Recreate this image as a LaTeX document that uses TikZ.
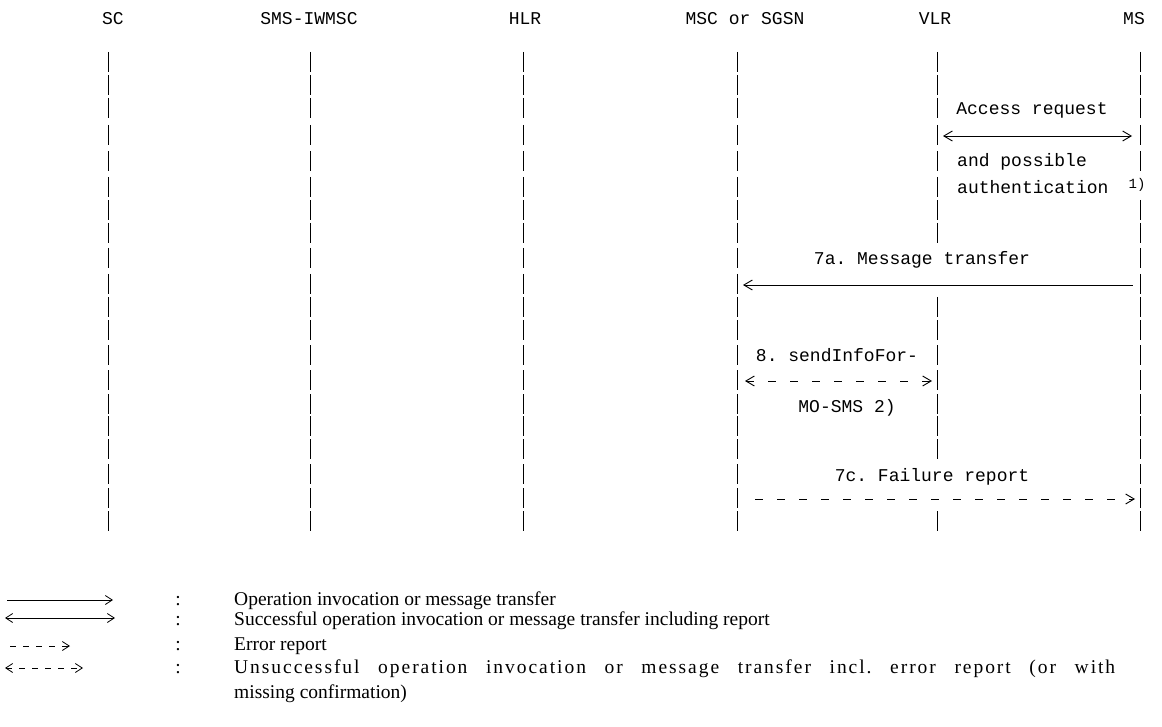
\documentclass[tikz,border=0pt]{standalone}
\usepackage{fontspec}
\setmainfont{Liberation Serif}
\setmonofont{Liberation Mono}
\usetikzlibrary{arrows.meta}
\frenchspacing
\begin{document}
\begin{tikzpicture}[x=1pt,y=-1pt,
  mono/.style={font=\fontsize{18}{20}\selectfont\ttfamily, inner sep=0pt, anchor=base},
  monow/.style={mono, anchor=base west},
  legtxt/.style={font=\fontsize{19.5}{22}\selectfont, inner sep=0pt, anchor=base west},
  legcol/.style={font=\fontsize{19.5}{22}\selectfont, inner sep=0pt, anchor=base},
  life/.style={line width=0.9pt},
  bt/.tip={Straight Barb[length=8.5pt,width=10pt,line width=0.9pt]},
  lt/.tip={Straight Barb[length=7pt,width=9pt,line width=0.8pt]},
  msg/.style={line width=0.9pt},
  errmsg/.style={line width=0.9pt, dash pattern=on 8pt off 14pt},
  legsolid/.style={line width=0.8pt},
  legdash/.style={line width=0.8pt, dash pattern=on 6pt off 7pt}
]
\useasboundingbox (0,0) rectangle (1162,727);

% headers
\node[mono] (sc)   at (113,25)  {SC};
\node[mono] (iw)   at (309,25)  {SMS-IWMSC};
\node[mono] (hlr)  at (525,25)  {HLR};
\node[mono] (msc)  at (745,25)  {MSC or SGSN};
\node[mono] (vlr)  at (935,25)  {VLR};
\node[mono] (ms)   at (1134,25) {MS};

% lifelines (drawn as broken bars, one per text row)
\foreach \lx in {108,310,523,737}{
  \foreach \ry in {62,85,108,135,161,187,210,233,258,284,307,330,355,380,404,426,449,474,498,521}{
    \draw[life] (\lx,\ry-10) -- (\lx,\ry+10);
  }
}
\foreach \ry in {62,85,108,135,161,187,210,233,307,330,355,380,404,426,449,521}{
  \draw[life] (937,\ry-10) -- (937,\ry+10);
}
\foreach \ry in {62,85,108,135,161,210,233,258,284,307,330,355,380,404,426,449,474,498,521}{
  \draw[life] (1140,\ry-10) -- (1140,\ry+10);
}

% message end points
\coordinate (accL) at (937,136);
\coordinate (accR) at (1140,136);
\coordinate (m7aL) at (737,285);
\coordinate (m7aR) at (1140,285);
\coordinate (m8L)  at (737,381);
\coordinate (m8R)  at (937,381);
\coordinate (m7cL) at (737,499);
\coordinate (m7cR) at (1140,499);

% messages
\draw[msg,{bt}-{bt}] ([xshift=6pt]accL) -- ([xshift=-8pt]accR);
\draw[msg,{bt}-] ([xshift=6pt]m7aL) -- ([xshift=-7pt]m7aR);
\draw[errmsg,{bt}-{bt}] ([xshift=8pt]m8L) -- ([xshift=-5pt]m8R);
\draw[errmsg,-{bt}] ([xshift=18pt]m7cL) -- ([xshift=-5pt]m7cR);

% message labels
\node[mono]  (accT1) at (1032,115) {Access request};
\node[monow] (accT2) at (957,167)  {and possible};
\node[monow] (accT3) at (957,194)  {authentication};
\node[mono, font=\fontsize{14}{15}\selectfont\ttfamily] (n1) at (1137,189) {1)};
\node[mono]  (t7a)  at (922,265)  {7a. Message transfer};
\node[mono]  (t8a)  at (837,361)  {8. sendInfoFor-};
\node[mono]  (t8b)  at (847,412)  {MO-SMS 2)};
\node[mono]  (t7c)  at (932,481)  {7c. Failure report};

% legend
\coordinate (g1a) at (7,600);   \coordinate (g1b) at (113,600);
\coordinate (g2a) at (5,618);   \coordinate (g2b) at (115,618);
\coordinate (g3a) at (10,646);  \coordinate (g3b) at (70,646);
\coordinate (g4a) at (5,668);   \coordinate (g4b) at (83,668);
\draw[legsolid,-{lt}] (g1a) -- (g1b);
\draw[legsolid,{lt}-{lt}] (g2a) -- (g2b);
\draw[legdash,-{lt}] (g3a) -- (g3b);
\draw[legdash,{lt}-{lt}] (g4a) -- (g4b);

\node[legcol] (c1) at (178,605) {:};
\node[legcol] (c2) at (178,625) {:};
\node[legcol] (c3) at (178,650) {:};
\node[legcol] (c4) at (178,673) {:};

\node[legtxt] (l1) at (234,605) {Operation invocation or message transfer};
\node[legtxt] (l2) at (234,625) {Successful operation invocation or message transfer including report};
\node[legtxt] (l3) at (234,650) {Error report};
\node[legtxt] (l4) at (234,673) {\addfontfeature{LetterSpace=10}\makebox[881pt][s]{Unsuccessful operation invocation or message transfer incl. error report (or with}};
\node[legtxt] (l5) at (234,698) {missing confirmation)};
\end{tikzpicture}
\end{document}
